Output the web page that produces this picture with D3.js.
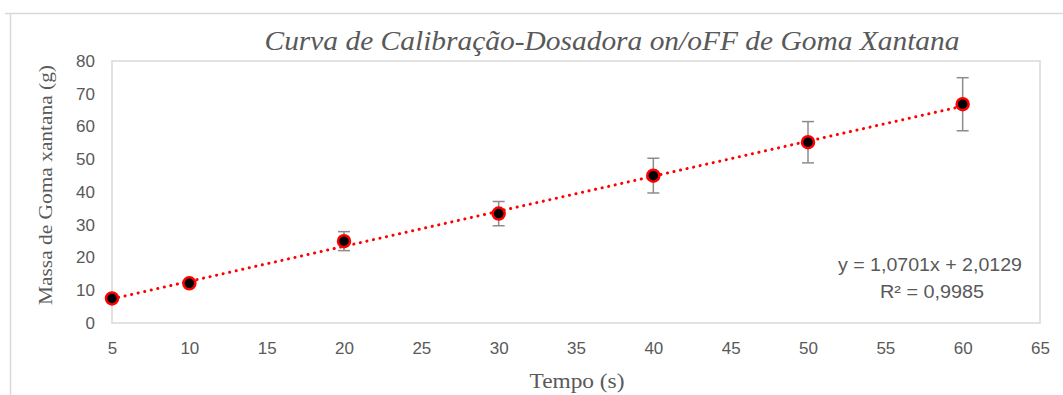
<!DOCTYPE html>
<html><head><meta charset="utf-8">
<script src="https://cdn.jsdelivr.net/npm/d3@7"></script>
<style>html,body{margin:0;padding:0;background:#fff;}svg{display:block;}</style>
</head><body>
<svg id="c" width="1063" height="395"></svg>
<script>
const tempo = [5, 10, 20, 30, 40, 50, 60];
const massa = [7.5, 12.1, 25.0, 33.4, 45.0, 55.2, 66.8];
const erro = [0.6, 0.9, 2.9, 3.7, 5.3, 6.3, 8.1];
const xTicks = [5, 10, 15, 20, 25, 30, 35, 40, 45, 50, 55, 60, 65];
const yTicks = [0, 10, 20, 30, 40, 50, 60, 70, 80];
const slope = 1.0701, intercept = 2.0129, r2 = 0.9985;
const title = "Curva de Calibração-Dosadora on/oFF de Goma Xantana";
const xLabel = "Tempo (s)";
const yLabel = "Massa de Goma xantana  (g)";

const svg = d3.select("#c");
const L = 112, R = 1040, T = 61, B = 323;
const x = d3.scaleLinear().domain([5, 65]).range([L, R]);
const y = d3.scaleLinear().domain([0, 80]).range([B, T]);
const grey = "#595959";
const sans = "'Liberation Sans', Arial, sans-serif";
const serif = "'Liberation Serif', 'Times New Roman', serif";

// outer chart frame
svg.append("line").attr("x1", 5).attr("x2", 1063).attr("y1", 13.5).attr("y2", 13.5).attr("stroke", "#d9d9d9").attr("stroke-width", 1.5);
svg.append("line").attr("x1", 10.5).attr("x2", 10.5).attr("y1", 13).attr("y2", 395).attr("stroke", "#d9d9d9").attr("stroke-width", 1.5);

// plot area border
svg.append("rect").attr("x", L).attr("y", T).attr("width", R - L).attr("height", B - T)
  .attr("fill", "none").attr("stroke", "#d9d9d9").attr("stroke-width", 1.5);

// axes (labels only)
const xAxis = svg.append("g").attr("transform", `translate(0,${B})`)
  .call(d3.axisBottom(x).tickValues(xTicks).tickSize(0).tickPadding(19));
xAxis.select(".domain").remove();
xAxis.selectAll("text").attr("fill", grey).style("font-family", sans).style("font-size", "17px");

const yAxis = svg.append("g").attr("transform", `translate(${L},0)`)
  .call(d3.axisLeft(y).tickValues(yTicks).tickSize(0).tickPadding(17));
yAxis.select(".domain").remove();
yAxis.selectAll("text").attr("fill", grey).style("font-family", sans).style("font-size", "17px");

// trendline
svg.append("line")
  .attr("x1", x(tempo[0])).attr("y1", y(slope * tempo[0] + intercept))
  .attr("x2", x(tempo[tempo.length - 1])).attr("y2", y(slope * tempo[tempo.length - 1] + intercept))
  .attr("stroke", "#ff0000").attr("stroke-width", 3).attr("stroke-dasharray", "0.1,6.6").attr("stroke-linecap", "round");

// error bars
const eb = svg.append("g").attr("stroke", "#8c8c8c").attr("stroke-width", 1.5);
tempo.forEach((t, i) => {
  const cx = x(t);
  eb.append("line").attr("x1", cx).attr("x2", cx).attr("y1", y(massa[i] - erro[i])).attr("y2", y(massa[i] + erro[i]));
  eb.append("line").attr("x1", cx - 6).attr("x2", cx + 6).attr("y1", y(massa[i] + erro[i])).attr("y2", y(massa[i] + erro[i]));
  eb.append("line").attr("x1", cx - 6).attr("x2", cx + 6).attr("y1", y(massa[i] - erro[i])).attr("y2", y(massa[i] - erro[i]));
});

// points
svg.append("g").selectAll("circle").data(tempo).join("circle")
  .attr("cx", d => x(d)).attr("cy", (d, i) => y(massa[i])).attr("r", 6)
  .attr("fill", "#000").attr("stroke", "#ff0000").attr("stroke-width", 2.5);

// equation
const eq = svg.append("g").style("font-family", sans).style("font-size", "18px").attr("fill", grey).attr("text-anchor", "middle");
eq.append("text").attr("x", 930).attr("y", 271).attr("textLength", 184).attr("lengthAdjust", "spacingAndGlyphs")
  .text(`y = ${String(slope).replace(".", ",")}x + ${String(intercept).replace(".", ",")}`);
eq.append("text").attr("x", 932).attr("y", 298).attr("textLength", 104).attr("lengthAdjust", "spacingAndGlyphs")
  .text(`R² = ${String(r2).replace(".", ",")}`);

// title
svg.append("text").attr("x", 612).attr("y", 50).attr("text-anchor", "middle")
  .style("font-family", serif).style("font-style", "italic").style("font-size", "27px")
  .attr("fill", grey).attr("textLength", 695).attr("lengthAdjust", "spacingAndGlyphs").text(title);

// axis titles
svg.append("text").attr("x", 577).attr("y", 388).attr("text-anchor", "middle")
  .style("font-family", serif).style("font-size", "21px")
  .attr("fill", grey).attr("textLength", 95).attr("lengthAdjust", "spacingAndGlyphs").text(xLabel);
svg.append("text").attr("transform", "translate(52,185) rotate(-90)").attr("text-anchor", "middle")
  .style("font-family", serif).style("font-size", "18px")
  .attr("fill", grey).attr("textLength", 240).attr("lengthAdjust", "spacingAndGlyphs").text(yLabel);
</script>
</body></html>
